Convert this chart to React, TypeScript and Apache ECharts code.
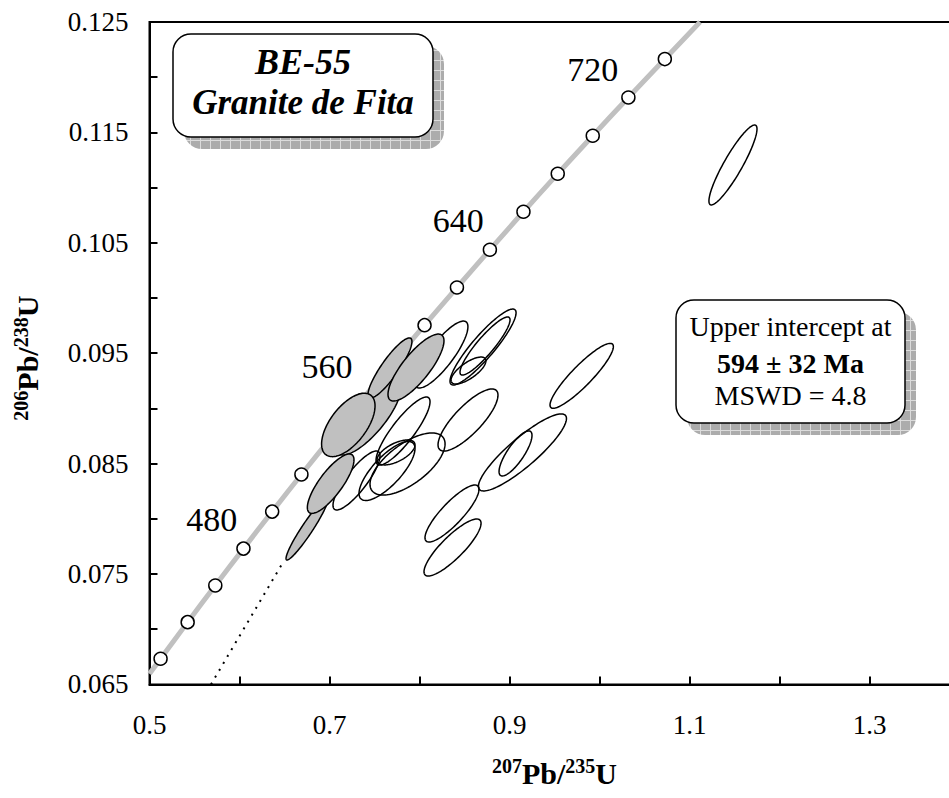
import React, { useEffect, useRef } from "react";
import * as echarts from "echarts";

// Concordia curve: age (Ma), 207Pb/235U, 206Pb/238U
const concordiaAges = [412, 420, 440, 460, 480, 500, 520, 540, 560, 580, 600, 620, 640, 660, 680, 700, 720, 740, 759];
const concordiaX = [0.5, 0.5123, 0.5424, 0.5731, 0.6044, 0.6363, 0.6688, 0.702, 0.7359, 0.7704, 0.8056, 0.8416, 0.8782, 0.9155, 0.9536, 0.9925, 1.0321, 1.0726, 1.1117];
const concordiaY = [0.06596, 0.06732, 0.07064, 0.07396, 0.0773, 0.08065, 0.08401, 0.08738, 0.09075, 0.09414, 0.09754, 0.10095, 0.10437, 0.10781, 0.11125, 0.1147, 0.11816, 0.12164, 0.125];
const markerAges = [420, 440, 460, 480, 500, 520, 540, 560, 580, 600, 620, 640, 660, 680, 700, 720, 740];
const labelledAges = [480, 560, 640, 720];

// Discordia (lower, visible part)
const discordiaX = [0.5683, 0.6487];
const discordiaY = [0.065, 0.0761];

// Error ellipses: [207/235, s207/235, 206/238, s206/238, rho]
const grayEllipses = [
  [0.7433, 0.0361, 0.08918, 0.0034, 0.78],
  [0.7672, 0.0244, 0.09366, 0.00272, 0.88],
  [0.7209, 0.0297, 0.0885, 0.00287, 0.6],
  [0.7961, 0.0311, 0.0937, 0.00303, 0.8],
  [0.675, 0.0233, 0.07908, 0.00281, 0.95],
  [0.7013, 0.0259, 0.08318, 0.00269, 0.8],
];
const openEllipses = [
  [1.1483, 0.0267, 0.11205, 0.00362, 0.9],
  [0.9802, 0.0352, 0.09295, 0.00294, 0.9],
  [0.9144, 0.0489, 0.08601, 0.00349, 0.88],
  [0.9067, 0.0183, 0.08592, 0.00204, 0.8],
  [0.8361, 0.03, 0.08048, 0.00258, 0.85],
  [0.8367, 0.0317, 0.0774, 0.00258, 0.85],
  [0.8539, 0.0333, 0.08895, 0.00281, 0.8],
  [0.8244, 0.0294, 0.09488, 0.00303, 0.83],
  [0.8706, 0.0367, 0.09556, 0.00344, 0.9],
  [0.8728, 0.0278, 0.09565, 0.00263, 0.9],
  [0.8544, 0.0194, 0.09343, 0.00122, 0.72],
  [0.7867, 0.0417, 0.08496, 0.00281, 0.65],
  [0.73, 0.0261, 0.08347, 0.00267, 0.84],
  [0.7639, 0.0311, 0.08433, 0.00267, 0.76],
  [0.7817, 0.03, 0.08795, 0.00308, 0.86],
  [0.7739, 0.0211, 0.08601, 0.00113, 0.6],
];

const FONT = '"Liberation Serif", "Times New Roman", serif';
const labelOffsets: Record<number, number[]> = { 480: [1, -29], 560: [-2, -34], 640: [1, -29], 720: [-3, -28] };

function makePattern() {
  const c = document.createElement("canvas");
  c.width = 10;
  c.height = 10;
  const g = c.getContext("2d");
  if (g) {
    g.fillStyle = "#acacac";
    g.fillRect(0, 0, 10, 10);
    g.fillStyle = "#dcdcdc";
    g.fillRect(0, 0, 10, 1);
    g.fillRect(0, 0, 1, 10);
  }
  return c;
}

function ellipseRenderer(fill: string) {
  return (_params: any, api: any) => {
    const cx = api.value(0);
    const sx = api.value(1);
    const cy = api.value(2);
    const sy = api.value(3);
    const r = api.value(4);
    const k = Math.sqrt(1 - r * r);
    const pts: number[][] = [];
    const n = 120;
    for (let i = 0; i < n; i++) {
      const t = (i / n) * 2 * Math.PI;
      pts.push(api.coord([cx + sx * Math.cos(t), cy + sy * (r * Math.cos(t) + k * Math.sin(t))]));
    }
    return {
      type: "polygon",
      shape: { points: pts },
      style: { fill, stroke: "#000", lineWidth: 1.5 },
    };
  };
}

function boxGroup(x: number, y: number, w: number, h: number, pattern: any, texts: any[]) {
  return {
    type: "group",
    children: [
      { type: "rect", shape: { x: x + 11, y: y + 12, width: w, height: h, r: 18 }, style: { fill: { image: pattern, repeat: "repeat" } }, z: 100 },
      { type: "rect", shape: { x, y, width: w, height: h, r: 18 }, style: { fill: "#fff", stroke: "#000", lineWidth: 1.5 }, z: 101 },
      ...texts.map((t) => ({ ...t, z: 102 })),
    ],
  };
}

export default function App() {
  const ref = useRef<HTMLDivElement>(null);
  useEffect(() => {
    document.body.style.margin = "0";
    if (!ref.current) return;
    const chart = echarts.init(ref.current, null, { renderer: "svg" });
    const pattern = makePattern();
    const markerData = markerAges.map((a) => {
      const i = concordiaAges.indexOf(a);
      const item: any = { value: [concordiaX[i], concordiaY[i]], name: String(a) };
      if (labelledAges.includes(a)) {
        item.label = {
          show: true,
          formatter: String(a),
          position: "left",
          distance: 0,
          offset: labelOffsets[a],
          fontSize: 34,
          fontFamily: FONT,
          color: "#000",
          opacity: 1,
        };
      }
      return item;
    });
    const supRich = {
      sup: { fontSize: 20, fontWeight: "bold", fontFamily: FONT, color: "#000", verticalAlign: "top", lineHeight: 20 },
      main: { fontSize: 30, fontWeight: "bold", fontFamily: FONT, color: "#000", lineHeight: 34 },
    };
    const option: any = {
      animation: false,
      backgroundColor: "#fff",
      grid: {
        left: 149.5,
        top: 22,
        width: 810,
        height: 662.4,
        show: true,
        borderColor: "#000",
        borderWidth: 2,
        backgroundColor: "transparent",
        containLabel: false,
        outerBoundsMode: "none",
      },
      xAxis: {
        type: "value",
        min: 0.5,
        max: 1.4,
        interval: 0.1,
        name: "{sup|207}{main|Pb/}{sup|235}{main|U}",
        nameLocation: "middle",
        nameGap: 72,
        nameTextStyle: { rich: supRich },
        axisLine: { onZero: false, lineStyle: { color: "#000", width: 2 } },
        axisTick: { inside: true, length: 8, lineStyle: { color: "#000", width: 2 } },
        splitLine: { show: false },
        axisLabel: {
          margin: 27,
          fontSize: 27,
          fontFamily: FONT,
          color: "#000",
          formatter: (v: number) => (Math.round((v - 0.5) / 0.1) % 2 === 0 ? v.toFixed(1) : ""),
        },
      },
      yAxis: {
        type: "value",
        min: 0.065,
        max: 0.125,
        interval: 0.005,
        name: "{sup|206}{main|Pb/}{sup|238}{main|U}",
        nameLocation: "middle",
        nameGap: 105,
        nameRotate: 90,
        nameTextStyle: { rich: supRich, padding: [0, 10, 0, 0] },
        axisLine: { onZero: false, lineStyle: { color: "#000", width: 2 } },
        axisTick: { inside: true, length: 8, lineStyle: { color: "#000", width: 2 } },
        splitLine: { show: false },
        axisLabel: {
          margin: 21,
          fontSize: 27,
          fontFamily: FONT,
          color: "#000",
          formatter: (v: number) => (Math.round((v - 0.065) / 0.005) % 2 === 0 ? v.toFixed(3) : ""),
        },
      },
      series: [
        {
          type: "line",
          data: concordiaX.map((x, i) => [x, concordiaY[i]]),
          showSymbol: false,
          smooth: true,
          lineStyle: { color: "#c0c0c0", width: 5 },
          z: 2,
          silent: true,
        },
        {
          type: "line",
          data: discordiaX.map((x, i) => [x, discordiaY[i]]),
          showSymbol: false,
          lineStyle: { color: "#000", width: 2, type: [2, 6] },
          z: 2,
          silent: true,
        },
        {
          type: "scatter",
          data: markerData,
          symbol: "circle",
          symbolSize: 13,
          itemStyle: { color: "#fff", borderColor: "#000", borderWidth: 1.5, opacity: 1 },
          z: 3,
        },
        {
          type: "custom",
          data: openEllipses,
          encode: { x: 0, y: 2 },
          renderItem: ellipseRenderer("none"),
          z: 4,
        },
        {
          type: "custom",
          data: grayEllipses,
          encode: { x: 0, y: 2 },
          renderItem: ellipseRenderer("#c0c0c0"),
          z: 5,
        },
      ],
      graphic: [
        boxGroup(173, 34, 260, 103, pattern, [
          { type: "text", style: { text: "BE-55", x: 303, y: 62, align: "center", verticalAlign: "middle", font: `italic bold 36px ${FONT}`, fill: "#000" } },
          { type: "text", style: { text: "Granite de Fita", x: 303, y: 102, align: "center", verticalAlign: "middle", font: `italic bold 35px ${FONT}`, fill: "#000" } },
        ]),
        boxGroup(676, 300, 229, 123, pattern, [
          { type: "text", style: { text: "Upper intercept at", x: 790.5, y: 326, align: "center", verticalAlign: "middle", font: `28px ${FONT}`, fill: "#000" } },
          { type: "text", style: { text: "594 ± 32 Ma", x: 790.5, y: 363, align: "center", verticalAlign: "middle", font: `bold 28px ${FONT}`, fill: "#000" } },
          { type: "text", style: { text: "MSWD = 4.8", x: 790.5, y: 395, align: "center", verticalAlign: "middle", font: `28px ${FONT}`, fill: "#000" } },
        ]),
      ],
    };
    chart.setOption(option);
    return () => chart.dispose();
  }, []);
  return <div ref={ref} style={{ position: "fixed", left: 0, top: 0, width: 949, height: 798 }} />;
}
